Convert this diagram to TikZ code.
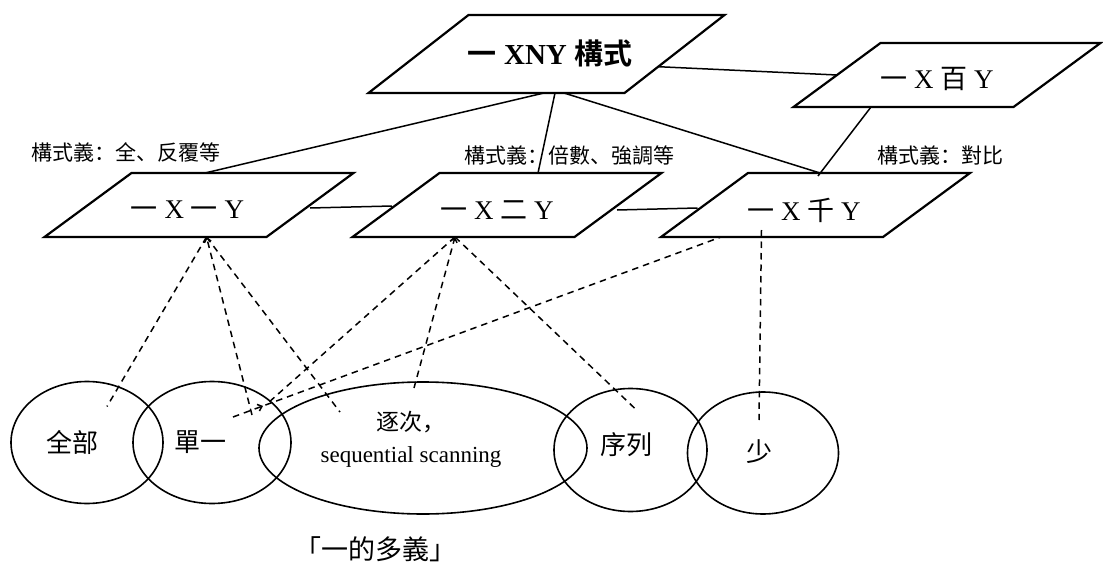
\documentclass[tikz,border=0pt]{standalone}
\usepackage{fontspec}
\setmainfont{Liberation Serif}
\newfontfamily\cjk{Noto Sans CJK SC}[BoldFont={Noto Sans CJK SC Bold}]
\usetikzlibrary{shapes.geometric,arrows.meta,calc,decorations.markings}
\newcommand\zh[1]{{\cjk #1}}
\newcommand\fsz[1]{\fontsize{#1}{#1}\selectfont}
% outline of a parallelogram around a rectangular node: #1 node, #2 half slant
\newcommand\paraedge[2]{%
  \draw[pedge] ([xshift=-#2]#1.south west) -- ([xshift=-#2]#1.south east)
    -- ([xshift=#2]#1.north east) -- ([xshift=#2]#1.north west) -- cycle;}

\begin{document}
\begin{tikzpicture}[x=1pt,y=-1pt,
  pbox/.style={rectangle,minimum width=222pt,minimum height=64pt,inner sep=0pt,outer sep=0pt},
  pedge/.style={line width=2.2pt,line join=miter},
  ptxt/.style={inner sep=0pt,font={\fsz{27}}},
  oval/.style={ellipse,draw,line width=1.6pt,inner sep=0pt},
  otxt/.style={inner sep=0pt,font={\fsz{26}\cjk}},
  lbl/.style={inner sep=0pt,font={\fsz{21}\cjk}},
  link/.style={line width=1.5pt},
  dlink/.style={line width=1.5pt,dash pattern=on 6.5pt off 5pt},
  tipend/.style={-{Straight Barb[length=4pt,width=7pt]}},
  midtip/.style={decoration={markings,
      mark=at position 32pt with {\arrow{Straight Barb[length=4pt,width=7pt]}}},
    postaction={decorate}}
]
\useasboundingbox (0,0) rectangle (1103,567);

% constructions
\node[pbox,minimum width=256pt,minimum height=78pt] (T) at (546.5,54) {};
\node[pbox,minimum width=220pt] (H) at (947,75) {};
\node[pbox] (A) at (199,205) {};
\node[pbox] (B) at (507,205) {};
\node[pbox] (C) at (815.5,205) {};
\paraedge{T}{50}
\paraedge{H}{43.5}
\paraedge{A}{43.5}
\paraedge{B}{43.5}
\paraedge{C}{43.5}

\node[ptxt,font={\fsz{29}\bfseries}] (Tt) at (550,53) {\zh{一} XNY \zh{構式}};
\node[ptxt] (Ht) at (937,79) {\zh{一} X \zh{百} Y};
\node[ptxt] (At) at (187.5,210) {\zh{一} X \zh{一} Y};
\node[ptxt] (Bt) at (497,210) {\zh{一} X \zh{二} Y};
\node[ptxt] (Ct) at (804,210) {\zh{一} X \zh{千} Y};

% constructional meanings
\node[lbl] (L1) at (126,152) {構式義：全、反覆等};
\node[lbl] (L2) at (569,155) {構式義：倍數、強調等};
\node[lbl] (L3) at (940,156) {構式義：對比};

% senses of 一
\node[oval,minimum width=152pt,minimum height=122pt] (e1) at (87,442.5) {};
\node[oval,minimum width=158pt,minimum height=122pt] (e2) at (212,442.5) {};
\node[oval,minimum width=328pt,minimum height=132pt] (e3) at (423,448) {};
\node[oval,minimum width=153pt,minimum height=123pt] (e4) at (630.5,450) {};
\node[oval,minimum width=151pt,minimum height=122pt] (e5) at (763,453) {};

\node[otxt] (e1t) at (72,442) {全部};
\node[otxt] (e2t) at (200,442) {單一};
\node[inner sep=0pt,font={\fontsize{23}{32}\selectfont},align=center] (e3t) at (411,439)
  {\zh{逐次，}\\sequential scanning};
\node[otxt] (e4t) at (626.5,445) {序列};
\node[otxt] (e5t) at (759,452) {少};
\node[inner sep=0pt,font={\fsz{27}\cjk}] (cap) at (375,549) {「一的多義」};

% links between constructions
\draw[link] ([xshift=-2.5]T.south) -- ([xshift=6]A.north);
\draw[link] ([xshift=8.5]T.south) -- ([xshift=31]B.north);
\draw[link] ([xshift=17.5]T.south) -- ([xshift=4.5]C.north);
\draw[link] ([shift={(-16.3,12.7)}]T.east) -- (H.west);
\draw[link] ([xshift=-76]H.south) -- ([shift={(2.5,3)}]C.north);
\draw[link] ([shift={(0,3)}]A.east) -- ([shift={(-4,1)}]B.west);
\draw[link] ([shift={(-1,5)}]B.east) -- ([shift={(-7,3)}]C.west);

% links from senses to constructions
\draw[dlink] ([xshift=7.5]A.south) -- ($(e1.center)+(20,-36)$);
\draw[dlink,tipend] ($(e2.center)+(40,-27.5)$) -- ([xshift=7.5]A.south);
\draw[dlink] ([xshift=7.5]A.south) -- ($(e3.center)+(-83,-36)$);
\draw[dlink] ([xshift=-52]B.south) -- ($(e2.center)+(56,-39.5)$);
\draw[dlink,tipend] ($(e3.center)+(-9,-60)$) -- ([xshift=-52]B.south);
\draw[dlink] ([xshift=-52]B.south) -- ($(e4.center)+(6,-40)$);
\draw[dlink,midtip] ($(e2.center)+(21,-25.5)$) -- ([xshift=-94.5]C.south);
\draw[dlink] ([shift={(-54,-7)}]C.south) -- ($(e5.center)+(-4,-33)$);
\end{tikzpicture}
\end{document}
